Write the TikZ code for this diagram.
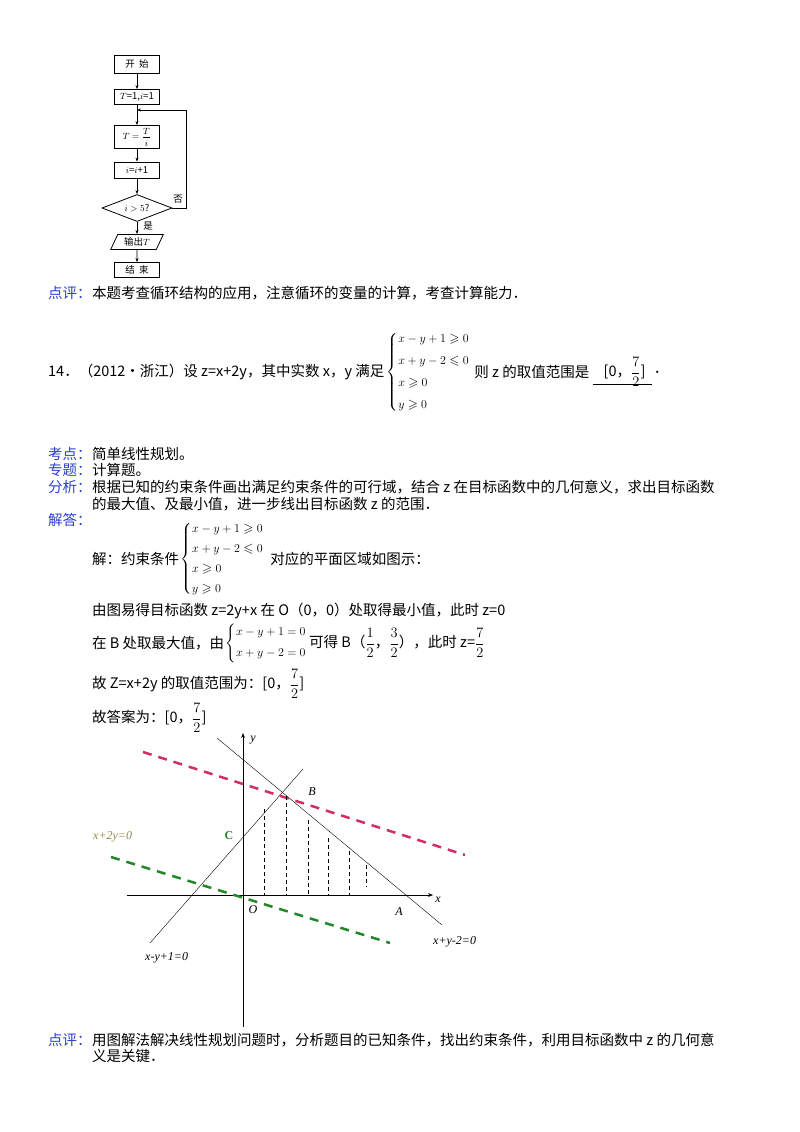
\documentclass[tikz,border=0pt]{standalone}
\usepackage{fontspec}
\usepackage{amsmath,amssymb}
\setmainfont{Noto Sans CJK SC}
\newfontfamily\gfont{Liberation Serif}
\usetikzlibrary{shapes.geometric,arrows.meta}
\definecolor{lblue}{HTML}{2B3FD0}
\definecolor{dred}{HTML}{D22E62}
\definecolor{dgreen}{HTML}{23872A}
\definecolor{olive}{HTML}{8C8C40}
\tikzset{
  txt/.style={anchor=west,inner sep=0pt,font=\fontsize{14.5}{16}\selectfont},
  sys/.style={anchor=west,inner sep=0pt,font=\fontsize{13}{15}\selectfont},
  lab/.style={txt,text=lblue},
  fbox/.style={draw,thick,minimum width=45pt,inner sep=1pt,font=\fontsize{9.5}{10}\selectfont},
  farr/.style={-{Stealth[length=4pt]},thick},
  gl/.style={font=\fontsize{12}{13}\gfont\itshape,inner sep=1pt},
  hatch/.style={dash pattern=on 4pt off 3pt,thin},
}
\begin{document}
\begin{tikzpicture}[x=1pt,y=-1pt]
\useasboundingbox (0,0) rectangle (800,1132);
% flowchart
\node[fbox,minimum height=18pt] (s) at (137,64) {开\ \ 始};
\node[fbox,minimum height=15pt] (init) at (137,97) {$T$=1,$i$=1};
\node[fbox,minimum height=23pt] (t) at (137,137) {$T=\dfrac{T}{i}$};
\node[fbox,minimum height=16pt] (inc) at (137,170) {$i$=$i$+1};
\node[draw,thick,diamond,aspect=2.6,minimum width=70pt,minimum height=27pt,inner sep=0pt,font=\fontsize{9.5}{10}\selectfont] (d) at (137,208) {$i>5$?};
\node[draw,thick,trapezium,trapezium left angle=65,trapezium right angle=115,minimum width=52pt,minimum height=15pt,inner sep=1pt,font=\fontsize{9.5}{10}\selectfont] (o) at (137,242) {输出$T$};
\node[fbox,minimum height=15pt] (e) at (137,270) {结\ \ 束};
\coordinate (j) at (137,110);
\coordinate (r1) at (186,208);
\coordinate (r2) at (186,110);
\draw[farr] (s) -- (init);
\draw[thick] (init) -- (j);
\draw[farr] (j) -- (t);
\draw[farr] (t) -- (inc);
\draw[farr] (inc) -- (d);
\draw[farr] (d) -- (o);
\draw[farr] (o) -- (e);
\draw[farr] (d.east) -- (r1) -- (r2) -- (j);
\node[font=\fontsize{9.5}{10}\selectfont] (no) at (178,199) {否};
\node[font=\fontsize{9.5}{10}\selectfont] (yes) at (148,226) {是};
% text
\node[lab] (p1) at (48,293) {点评：};
\node[txt] (p1t) at (92,293) {本题考查循环结构的应用，注意循环的变量的计算，考查计算能力．};
\node[txt] (q) at (48,372) {14．（2012•浙江）设 z=x+2y，其中实数 x，y 满足};
\node[sys] (qs) at ([xshift=2pt]q.east) {$\left\{\begin{array}{@{}l@{}}x-y+1\geqslant 0\\[7pt] x+y-2\leqslant 0\\[7pt] x\geqslant 0\\[7pt] y\geqslant 0\end{array}\right.$};
\node[txt] (q2) at ([xshift=4pt]q.east -| qs.east) {则 z 的取值范围是};
\node[txt] (qa) at ([xshift=14pt]q2.east) {[0，$\dfrac{7}{2}$]};
\draw[thin] ([xshift=-10pt,yshift=-12pt]qa.west) -- ([xshift=6pt,yshift=-12pt]qa.east);
\node[txt] (qd) at ([xshift=8pt]qa.east) {．};
\node[lab] (k1) at (48,454) {考点：};
\node[txt] (k1t) at (92,454) {简单线性规划。};
\node[lab] (k2) at (48,470) {专题：};
\node[txt] (k2t) at (92,470) {计算题。};
\node[lab] (k3) at (48,487) {分析：};
\node[txt] (k3t) at (92,487) {根据已知的约束条件画出满足约束条件的可行域，结合 z 在目标函数中的几何意义，求出目标函数};
\node[txt] (k3u) at (92,504) {的最大值、及最小值，进一步线出目标函数 z 的范围．};
\node[lab] (k4) at (48,520) {解答：};
\node[txt] (j1) at (92,559) {解：约束条件};
\node[sys] (js) at ([xshift=1pt]j1.east) {$\left\{\begin{array}{@{}l@{}}x-y+1\geqslant 0\\[5pt] x+y-2\leqslant 0\\[5pt] x\geqslant 0\\[5pt] y\geqslant 0\end{array}\right.$};
\node[txt] (j1b) at ([xshift=6pt]j1.east -| js.east) {对应的平面区域如图示：};
\node[txt] (j2) at (92,611) {由图易得目标函数 z=2y+x 在 O（0，0）处取得最小值，此时 z=0};
\node[txt] (j3) at (92,643) {在 B 处取最大值，由};
\node[sys] (j3s) at ([xshift=1pt]j3.east) {$\left\{\begin{array}{@{}l@{}}x-y+1=0\\[6pt] x+y-2=0\end{array}\right.$};
\node[txt] (j3b) at ([xshift=2pt]j3.east -| j3s.east) {可得 B（$\dfrac{1}{2}$，$\dfrac{3}{2}$），此时 z=$\dfrac{7}{2}$};
\node[txt] (j4) at (92,684) {故 Z=x+2y 的取值范围为：[0，$\dfrac{7}{2}$]};
\node[txt] (j5) at (92,718) {故答案为：[0，$\dfrac{7}{2}$]};
% graph
\coordinate (yb) at (243,1027); \coordinate (yt) at (243,733);
\coordinate (xl) at (127,895); \coordinate (xr) at (433,895);
\draw[-{Stealth[length=5pt]},thin] (yb) -- (yt);
\draw[-{Stealth[length=5pt]},thin] (xl) -- (xr);
\coordinate (l1a) at (150,943); \coordinate (l1b) at (303,769);
\coordinate (l2a) at (217,738); \coordinate (l2b) at (442,925);
\draw[thin] (l1a) -- (l1b);
\draw[thin] (l2a) -- (l2b);
\coordinate (ra) at (143,752); \coordinate (rb) at (465,855);
\draw[dred,line width=2.5pt,dash pattern=on 9pt off 7pt] (ra) -- (rb);
\coordinate (ga) at (111,857); \coordinate (gb) at (390,943);
\draw[dgreen,line width=2.5pt,dash pattern=on 9pt off 7pt] (ga) -- (gb);
\foreach \x/\t/\b in {264/809/895,286/796/895,308/820/895,328/838/895,349/851/895,366/865/887}
  \draw[hatch] (\x,\t) -- (\x,\b);
\node[gl] (ly) at (253,740) {y};
\node[gl] (lx) at (438,900) {x};
\node[gl] (lB) at (312,792) {B};
\node[gl,text=dgreen,font=\fontsize{12}{13}\gfont\bfseries] (lC) at (229,836) {C};
\node[gl] (lO) at (253,910) {O};
\node[gl] (lA) at (399,912) {A};
\node[gl,text=olive,anchor=west] (lg) at (92,837) {x+2y=0};
\node[gl,anchor=west] (l1) at (144,958) {x-y+1=0};
\node[gl,anchor=west] (l2) at (432,942) {x+y-2=0};
% bottom
\node[lab] (b1) at (48,1040) {点评：};
\node[txt] (b1t) at (92,1040) {用图解法解决线性规划问题时，分析题目的已知条件，找出约束条件，利用目标函数中 z 的几何意};
\node[txt] (b1u) at (92,1056) {义是关键．};
\end{tikzpicture}
\end{document}
